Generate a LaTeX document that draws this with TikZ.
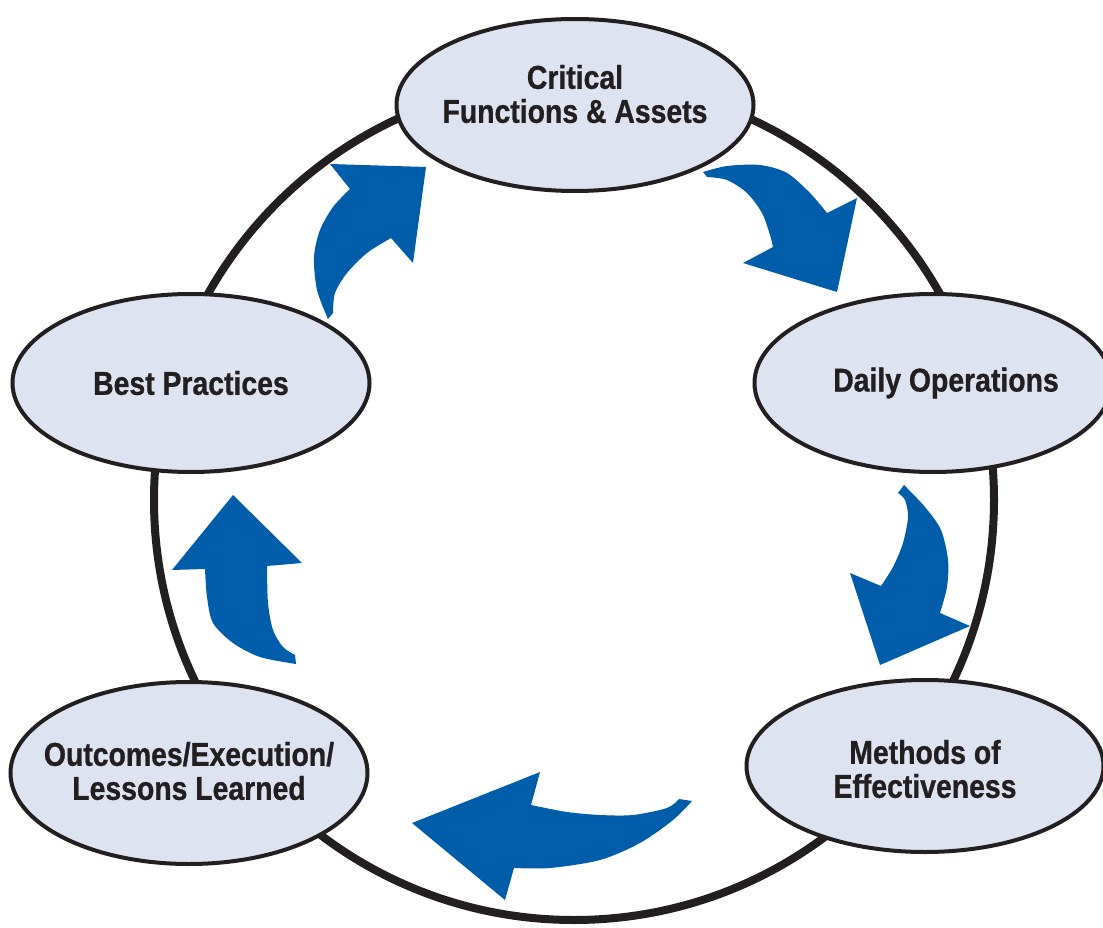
\documentclass[tikz,border=0pt]{standalone}
\usepackage{fontspec}
\newfontfamily\lblfont[FakeStretch=0.86, FakeBold=0.8]{Liberation Sans Bold}
\usetikzlibrary{shapes.geometric}
\definecolor{ink}{HTML}{231F20}
\definecolor{ellfill}{HTML}{DDE3F1}
\definecolor{arrowblue}{HTML}{005DA9}
\begin{document}
\begin{tikzpicture}[x=1pt,y=-1pt,
  lbl/.style={font=\lblfont\fontsize{33}{34}\selectfont, text=ink, align=center, inner sep=0pt},
  ell/.style={ellipse, draw=ink, line width=4pt, fill=ellfill,
    minimum width=357pt, minimum height=178pt, inner sep=0pt},
  bluearrow/.style={fill=arrowblue}]
\useasboundingbox (0,0) rectangle (1103,928);
\node[circle, draw=ink, line width=8pt, minimum size=840pt, inner sep=0pt] (ring) at (574,500) {};
% arrows
\fill[bluearrow] plot[smooth] coordinates {(328,319) (317,290) (314,257) (320,230) (333,207) (350,189)}
  -- (330,164) -- (426,167) -- (413,263)
  -- plot[smooth] coordinates {(391,238) (367,253) (347,273) (335,293) (333,313)} -- cycle;
\fill[bluearrow] plot[smooth] coordinates {(703,172) (727,166) (760,165) (787,173) (810,193) (827,213)}
  -- (857,198) -- (837,292) -- (743,263)
  -- plot[smooth] coordinates {(773,247) (770,235) (762,213) (747,193) (727,180) (707,177)} -- cycle;
\fill[bluearrow] plot[smooth] coordinates {(904,485) (925,507) (941,530) (948,560) (947,587) (940,613)}
  -- (970,626) -- (880,665) -- (850,573)
  -- plot[smooth] coordinates {(881,586) (893,567) (903,543) (908,517) (905,500) (898,493)} -- cycle;
\fill[bluearrow] plot[smooth] coordinates {(679,799) (667,808) (633,815) (600,815) (567,812) (531,805)}
  -- (540,772) -- (412,823) -- (505,900)
  -- plot[smooth] coordinates {(514,868) (550,868) (600,860) (640,843) (673,820) (692,801)} -- cycle;
\fill[bluearrow] plot[smooth] coordinates {(296,664) (260,657) (233,643) (213,623) (207,597) (205,569)}
  -- (172,570) -- (233,495) -- (302,563)
  -- plot[smooth] coordinates {(267,566) (268,603) (273,630) (283,647) (295,655)} -- cycle;
% ellipses
\node[ell, minimum height=172pt, label={[lbl, name=critlbl, yshift=11pt]center:{Critical\\Functions \& Assets}}] (crit) at (575,105) {};
\node[ell, label={[lbl, name=dailylbl, xshift=13pt]center:{Daily Operations}}] (daily) at (933,383) {};
\node[ell, minimum height=172pt, label={[lbl, name=methlbl, yshift=-3pt]center:{Methods of\\Effectiveness}}] (meth) at (925,766) {};
\node[ell, minimum height=182pt, label={[lbl, name=outclbl, yshift=2pt]center:{Outcomes/Execution/\\Lessons Learned}}] (outc) at (189,773) {};
\node[ell, label={[lbl, name=bestlbl]center:{Best Practices}}] (best) at (191,383) {};
\end{tikzpicture}
\end{document}
